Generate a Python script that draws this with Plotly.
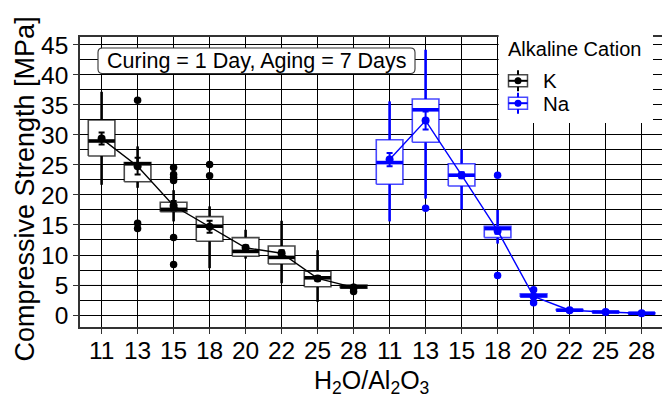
import plotly.graph_objects as go

# ---------------- data ----------------
ratios = ["11", "13", "15", "18", "20", "22", "25", "28"]
cations = ["K", "Na"]

K_lower = [21.7, 21.2, 15.6, 7.8, 9.4, 5.3, 2.2, 4.3]
K_q1 = [26.5, 22.2, 17.2, 12.3, 9.8, 8.5, 4.7, 4.45]
K_med = [29.0, 25.2, 17.6, 14.8, 10.6, 9.6, 6.2, 4.7]
K_q3 = [32.5, 25.4, 18.8, 16.4, 12.9, 11.5, 7.3, 5.0]
K_upper = [37.2, 28.1, 20.8, 18.1, 14.2, 15.7, 10.8, 5.2]
K_mean = [29.4, 24.8, 18.2, 14.7, 11.2, 10.3, 6.1, 4.6]
K_se = [1.0, 1.4, 0.8, 1.0, 0.4, 0.5, 0.4, 0.2]
K_out = [[], [35.8, 15.3, 14.4], [24.6, 23.4, 22.9, 22.4, 12.9, 8.4],
         [25.1, 23.2], [], [], [], [3.9]]

Na_lower = [15.6, 19.4, 17.6, 11.9, 2.5, 0.6, 0.35, 0.15]
Na_q1 = [21.8, 28.8, 21.5, 12.9, 3.0, 0.7, 0.42, 0.22]
Na_med = [25.4, 34.2, 23.3, 14.4, 3.2, 0.8, 0.5, 0.3]
Na_q3 = [29.2, 36.0, 25.2, 14.8, 3.55, 0.92, 0.58, 0.38]
Na_upper = [35.6, 44.2, 27.6, 17.5, 3.9, 1.0, 0.65, 0.45]
Na_mean = [25.9, 32.4, 23.3, 14.05, 3.1, 0.8, 0.5, 0.3]
Na_se = [1.1, 1.5, 0.5, 0.5, 0.2, 0.05, 0.03, 0.03]
Na_out = [[], [17.8], [], [23.3, 6.6], [4.2, 2.05], [], [], []]

y_ticks = [0, 5, 10, 15, 20, 25, 30, 35, 40, 45]

# ---------------- styling ----------------
FONT = "Liberation Sans, Arial, Helvetica, sans-serif"
W_FIG, H_FIG = 662, 399
L, T, PW, PH = 80, 37, 582, 290
UNIT = 36.0  # px per category
HALF = 0.37  # half box width in category units


def px(x):
    return (x - L) / PW


def py(y):
    return (T + PH - y) / PH


groups = [
    dict(name="K", color="black", box_line="rgba(0,0,0,0.72)",
         lower=K_lower, q1=K_q1, med=K_med, q3=K_q3, upper=K_upper,
         mean=K_mean, se=K_se, out=K_out, offset=0),
    dict(name="Na", color="#0000ff", box_line="rgba(0,0,255,0.72)",
         lower=Na_lower, q1=Na_q1, med=Na_med, q3=Na_q3, upper=Na_upper,
         mean=Na_mean, se=Na_se, out=Na_out, offset=len(ratios)),
]

fig = go.Figure()

for g in groups:
    xs = [g["offset"] + i for i in range(len(ratios))]
    # whiskers
    wx, wy = [], []
    for x, lo, q1, q3, up in zip(xs, g["lower"], g["q1"], g["q3"], g["upper"]):
        wx += [x, x, None, x, x, None]
        wy += [lo, q1, None, q3, up, None]
    fig.add_trace(go.Scatter(x=wx, y=wy, mode="lines",
                             line=dict(color=g["color"], width=2.6),
                             hoverinfo="skip", showlegend=False))
    # boxes
    bx, by = [], []
    for x, q1, q3 in zip(xs, g["q1"], g["q3"]):
        bx += [x - HALF, x + HALF, x + HALF, x - HALF, x - HALF, None]
        by += [q1, q1, q3, q3, q1, None]
    fig.add_trace(go.Scatter(x=bx, y=by, mode="lines", fill="toself",
                             fillcolor="white",
                             line=dict(color=g["box_line"], width=1.6),
                             hoverinfo="skip", showlegend=False))
    # medians
    mx, my = [], []
    for x, m in zip(xs, g["med"]):
        mx += [x - HALF, x + HALF, None]
        my += [m, m, None]
    fig.add_trace(go.Scatter(x=mx, y=my, mode="lines",
                             line=dict(color=g["color"], width=3.6),
                             hoverinfo="skip", showlegend=False))

for g in groups:
    xs = [g["offset"] + i for i in range(len(ratios))]
    # mean line with points and error bars
    fig.add_trace(go.Scatter(x=xs, y=g["mean"], mode="lines+markers",
                             line=dict(color=g["color"], width=1.4),
                             marker=dict(color=g["color"], size=8),
                             error_y=dict(type="data", array=g["se"], visible=True,
                                          color=g["color"], thickness=2, width=3),
                             name=g["name"], showlegend=False))
    # outliers
    ox, oy = [], []
    for x, outs in zip(xs, g["out"]):
        for v in outs:
            ox.append(x)
            oy.append(v)
    fig.add_trace(go.Scatter(x=ox, y=oy, mode="markers",
                             marker=dict(color=g["color"], size=7.5),
                             hoverinfo="skip", showlegend=False))

tickvals = list(range(len(ratios) * len(cations)))
ticktext = ratios * len(cations)

shapes = []
# light line at y = 5
shapes.append(dict(type="line", xref="paper", yref="y", x0=0, x1=1, y0=5, y1=5,
                   line=dict(color="#e2e2e2", width=1), layer="between"))
# white legend panel
shapes.append(dict(type="rect", xref="paper", yref="paper",
                   x0=px(498.6), x1=px(653), y0=py(123), y1=py(15),
                   fillcolor="white", line=dict(width=0), layer="above"))


def rounded_rect(x0, y0, x1, y1, r):
    # pixel coordinates (y downwards) -> paper path
    def P(x, y):
        return f"{px(x):.5f},{py(y):.5f}"
    path = (f"M {P(x0 + r, y0)} L {P(x1 - r, y0)} Q {P(x1, y0)} {P(x1, y0 + r)} "
            f"L {P(x1, y1 - r)} Q {P(x1, y1)} {P(x1 - r, y1)} "
            f"L {P(x0 + r, y1)} Q {P(x0, y1)} {P(x0, y1 - r)} "
            f"L {P(x0, y0 + r)} Q {P(x0, y0)} {P(x0 + r, y0)} Z")
    return path


shapes.append(dict(type="path", xref="paper", yref="paper",
                   path=rounded_rect(98, 48, 415, 73.5, 4.5),
                   fillcolor="white", line=dict(color="#333333", width=1.1),
                   layer="above"))

# legend keys
key_specs = [("black", "rgba(0,0,0,0.72)", 80.8), ("#0000ff", "rgba(0,0,255,0.72)", 103.2)]
for col, bcol, yc in key_specs:
    shapes.append(dict(type="line", xref="paper", yref="paper",
                       x0=px(518), x1=px(518), y0=py(yc - 10.5), y1=py(yc + 10.5),
                       line=dict(color=col, width=2), layer="above"))
    shapes.append(dict(type="rect", xref="paper", yref="paper",
                       x0=px(508.5), x1=px(527.5), y0=py(yc - 6), y1=py(yc + 6),
                       fillcolor="white", line=dict(color=bcol, width=1.5), layer="above"))
    shapes.append(dict(type="line", xref="paper", yref="paper",
                       x0=px(508.5), x1=px(527.5), y0=py(yc), y1=py(yc),
                       line=dict(color=col, width=2), layer="above"))
    shapes.append(dict(type="line", xref="paper", yref="paper",
                       x0=px(518), x1=px(518), y0=py(yc - 3), y1=py(yc + 3),
                       line=dict(color=col, width=2), layer="above"))
    shapes.append(dict(type="circle", xref="paper", yref="paper",
                       x0=px(514.5), x1=px(521.5), y0=py(yc + 3.5), y1=py(yc - 3.5),
                       fillcolor=col, line=dict(color=col, width=0), layer="above"))

annotations = [
    dict(text="Curing = 1 Day, Aging = 7 Days", xref="paper", yref="paper",
         x=px(256.5), y=py(61), xanchor="center", yanchor="middle", showarrow=False,
         font=dict(family=FONT, size=21.5, color="black")),
    dict(text="Alkaline Cation", xref="paper", yref="paper",
         x=px(506), y=py(49), xanchor="left", yanchor="middle", showarrow=False,
         font=dict(family=FONT, size=20, color="black")),
    dict(text=cations[0], xref="paper", yref="paper",
         x=px(540.5), y=py(80.5), xanchor="left", yanchor="middle", showarrow=False,
         font=dict(family=FONT, size=20.5, color="black")),
    dict(text=cations[1], xref="paper", yref="paper",
         x=px(540.5), y=py(103), xanchor="left", yanchor="middle", showarrow=False,
         font=dict(family=FONT, size=20.5, color="black")),
    dict(text="Compressive Strength [MPa]", xref="paper", yref="paper",
         x=px(24.5), y=py(189), xanchor="center", yanchor="middle", showarrow=False,
         textangle=-90, font=dict(family=FONT, size=27, color="black")),
    dict(text="H<sub>2</sub>O/Al<sub>2</sub>O<sub>3</sub>", xref="paper", yref="paper",
         x=px(371), y=py(382), xanchor="center", yanchor="middle", showarrow=False,
         font=dict(family=FONT, size=25, color="black")),
]

fig.update_layout(
    width=W_FIG, height=H_FIG,
    margin=dict(l=L, r=W_FIG - L - PW, t=T, b=H_FIG - T - PH, pad=0),
    paper_bgcolor="white", plot_bgcolor="white",
    showlegend=False,
    shapes=shapes, annotations=annotations,
    font=dict(family=FONT, color="black"),
    xaxis=dict(range=[-0.6, -0.6 + PW / UNIT], tickvals=tickvals, ticktext=ticktext,
               showgrid=True, gridcolor="black", gridwidth=1, zeroline=False,
               showline=True, linecolor="#333333", linewidth=1.6, mirror=True,
               ticks="outside", ticklen=5, tickcolor="#333333", tickwidth=1,
               ticklabelstandoff=-4,
               tickfont=dict(family=FONT, size=24.5, color="black"), fixedrange=True),
    yaxis=dict(range=[-2.0, 46.33], tickvals=y_ticks,
               showgrid=True, gridcolor="black", gridwidth=1, zeroline=False,
               minor=dict(dtick=2.5, tick0=0, showgrid=True, gridcolor="black",
                          gridwidth=1, ticks=""),
               showline=True, linecolor="#333333", linewidth=1.6,
               ticks="outside", ticklen=5, tickcolor="#333333", tickwidth=1,
               tickfont=dict(family=FONT, size=24.5, color="black"), fixedrange=True),
)

fig.write_html("out.html")
